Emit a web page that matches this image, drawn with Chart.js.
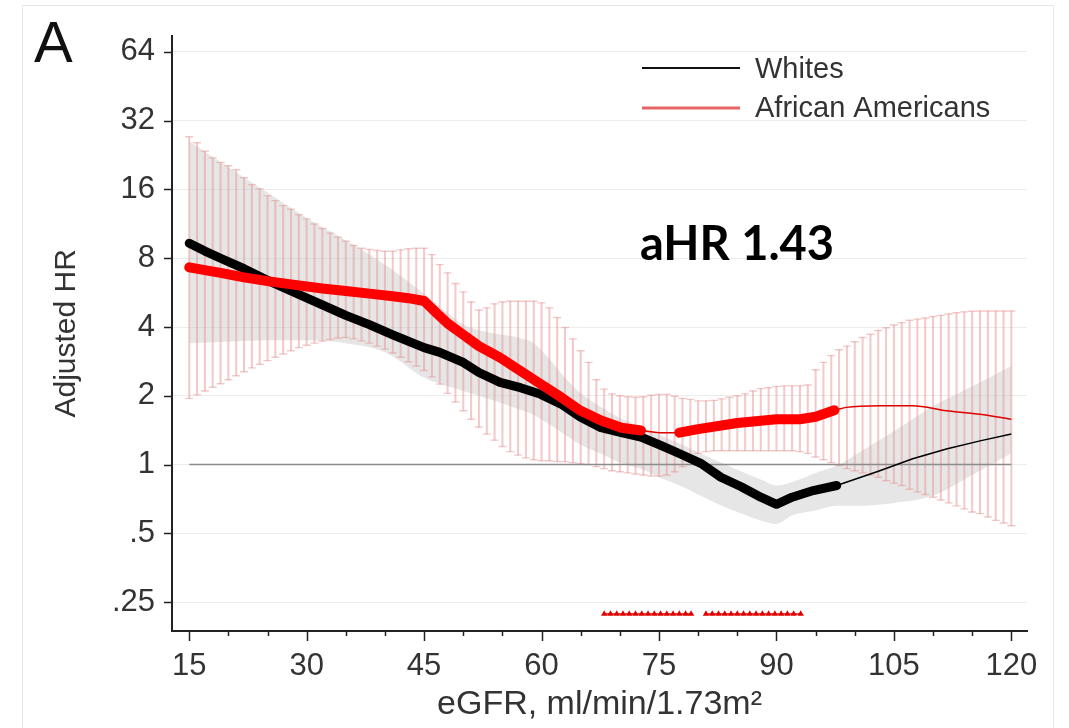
<!DOCTYPE html>
<html>
<head>
<meta charset="utf-8">
<script src="https://cdn.jsdelivr.net/npm/chart.js@4.4.1/dist/chart.umd.min.js"></script>
<style>
  html, body { margin: 0; padding: 0; background: #fff; }
  #wrap { width: 1069px; height: 728px; position: relative; }
</style>
</head>
<body>
<div id="wrap"><canvas id="hrChart" width="1069" height="728"></canvas></div>
<script>
// tick labels
const xTicks = [15, 30, 45, 60, 75, 90, 105, 120];
const yTicks = [0.25, 0.5, 1, 2, 4, 8, 16, 32, 64];
const yTickLabels = [".25", ".5", "1", "2", "4", "8", "16", "32", "64"];

// African Americans 95% CI (error bars), one per eGFR unit
const ciX = [15, 16, 17, 18, 19, 20, 21, 22, 23, 24, 25, 26, 27, 28, 29, 30, 31, 32, 33, 34,
  35, 36, 37, 38, 39, 40, 41, 42, 43, 44, 45, 46, 47, 48, 49, 50, 51, 52, 53, 54,
  55, 56, 57, 58, 59, 60, 61, 62, 63, 64, 65, 66, 67, 68, 69, 70, 71, 72, 73, 74,
  75, 76, 77, 78, 79, 80, 81, 82, 83, 84, 85, 86, 87, 88, 89, 90, 91, 92, 93, 94,
  95, 96, 97, 98, 99, 100, 101, 102, 103, 104, 105, 106, 107, 108, 109, 110, 111, 112, 113, 114,
  115, 116, 117, 118, 119, 120];
const aaUpper = [27.2, 25.6, 23.5, 22.0, 21.0, 20.3, 19.5, 18.0, 16.8, 16.1, 15.0, 14.3, 13.6, 13.1, 12.4, 11.9, 11.3, 10.8, 10.3, 9.9,
  9.5, 9.1, 8.85, 8.75, 8.65, 8.58, 8.58, 8.7, 8.8, 8.85, 8.85, 8.3, 7.5, 6.9, 6.2, 5.7, 5.15, 4.75, 4.85, 5.05,
  5.15, 5.19, 5.19, 5.19, 5.19, 5.1, 4.85, 4.4, 3.98, 3.55, 3.15, 2.8, 2.35, 2.14, 2.04, 2.0, 1.98, 1.97, 1.98, 2.01,
  2.03, 2.03, 1.99, 1.95, 1.93, 1.9, 1.9, 1.91, 1.94, 1.97, 2.0, 2.04, 2.1, 2.15, 2.17, 2.2, 2.21, 2.21, 2.21, 2.23,
  2.6, 2.8, 3.0, 3.18, 3.3, 3.45, 3.6, 3.72, 3.86, 3.97, 4.08, 4.18, 4.28, 4.33, 4.38, 4.45, 4.5, 4.56, 4.62, 4.66,
  4.69, 4.7, 4.7, 4.7, 4.7, 4.7];
const aaLower = [1.95, 2.02, 2.1, 2.18, 2.26, 2.35, 2.45, 2.55, 2.65, 2.75, 2.85, 2.95, 3.05, 3.15, 3.25, 3.33, 3.4, 3.47, 3.53, 3.58,
  3.6, 3.55, 3.48, 3.4, 3.3, 3.2, 3.08, 2.95, 2.82, 2.7, 2.58, 2.42, 2.25, 2.05, 1.88, 1.72, 1.58, 1.46, 1.36, 1.28,
  1.2, 1.14, 1.1, 1.07, 1.05, 1.04, 1.04, 1.03, 1.03, 1.02, 1.01, 1.0, 0.98, 0.96, 0.94, 0.93, 0.92, 0.91, 0.9, 0.89,
  0.89, 0.9, 0.93, 0.98, 1.06, 1.12, 1.14, 1.15, 1.15, 1.15, 1.15, 1.15, 1.15, 1.15, 1.15, 1.15, 1.15, 1.15, 1.14, 1.12,
  1.08, 1.05, 1.02, 0.99, 0.96, 0.94, 0.92, 0.9, 0.88, 0.85, 0.83, 0.81, 0.78, 0.76, 0.74, 0.72, 0.7, 0.68, 0.66, 0.64,
  0.62, 0.61, 0.59, 0.57, 0.555, 0.54];

// Whites 95% CI (grey band)
const bandX = [15, 20, 25, 30, 35, 40, 45, 48, 50, 53, 55, 57, 59, 61, 63, 65, 68, 70, 73, 75, 78, 80, 83, 85, 88, 90, 92, 95, 97.7, 100, 105, 110, 115, 120];
const whUpper = [26, 20, 15.5, 12, 9.6, 7.5, 5.6, 4.6, 4.1, 3.8, 3.7, 3.6, 3.4, 2.9, 2.4, 2.05, 1.75, 1.6, 1.45, 1.35, 1.22, 1.13, 1.02, 0.95, 0.86, 0.81, 0.84, 0.92, 0.99, 1.1, 1.4, 1.8, 2.2, 2.7];
const whLower = [3.4, 3.45, 3.5, 3.5, 3.4, 3.1, 2.4, 2.2, 2.1, 1.95, 1.85, 1.75, 1.65, 1.5, 1.35, 1.22, 1.1, 1.02, 0.95, 0.88, 0.8, 0.74, 0.66, 0.62, 0.57, 0.55, 0.6, 0.63, 0.66, 0.66, 0.68, 0.73, 0.9, 1.12];

// Whites adjusted HR
const whThickX = [15, 17, 19, 22, 25, 28, 32, 35, 38, 41, 45, 47, 50, 52, 54.7, 57.3, 59.9, 62.5, 65, 67.6, 70.2, 72.7, 75.3, 77.8, 80.4, 82.9, 85.5, 88, 90, 92, 94.7, 97.7];
const whThickY = [9.3, 8.6, 8.0, 7.2, 6.4, 5.75, 5.0, 4.5, 4.1, 3.7, 3.25, 3.1, 2.8, 2.53, 2.29, 2.17, 2.03, 1.84, 1.61, 1.45, 1.38, 1.32, 1.21, 1.11, 1.01, 0.88, 0.8, 0.72, 0.67, 0.72, 0.77, 0.81];
const whThinX = [97.7, 103.2, 107.4, 111.7, 116, 120];
const whThinY = [0.81, 0.94, 1.06, 1.17, 1.27, 1.36];

// African Americans adjusted HR
const aaThickX1 = [15, 17, 19, 22, 25, 28, 32, 35, 38, 41, 43, 45, 46.6, 48, 50, 52, 54.7, 57.3, 59.9, 62.5, 65, 67.6, 70.2, 72.7];
const aaThickY1 = [7.3, 7.1, 6.9, 6.6, 6.35, 6.15, 5.9, 5.75, 5.6, 5.45, 5.35, 5.2, 4.6, 4.15, 3.7, 3.3, 2.94, 2.57, 2.25, 1.97, 1.72, 1.56, 1.45, 1.41];
const aaGapX = [72.7, 75, 77.6];
const aaGapY = [1.41, 1.38, 1.38];
const aaThickX2 = [77.6, 80, 85, 90, 93, 95, 97.4];
const aaThickY2 = [1.38, 1.43, 1.52, 1.58, 1.58, 1.62, 1.73];
const aaThinX = [97.4, 98.9, 103.2, 107.4, 111.7, 116, 120];
const aaThinY = [1.73, 1.78, 1.81, 1.81, 1.72, 1.66, 1.58];

// significance rug near the bottom
const rugX1 = [68, 68.8, 69.6, 70.4, 71.2, 72, 72.8, 73.6, 74.4, 75.2, 76, 76.8, 77.6, 78.4, 79.1];
const rugX2 = [81, 81.8, 82.6, 83.4, 84.2, 85, 85.8, 86.6, 87.4, 88.2, 89, 89.8, 90.6, 91.4, 92.2, 93.1];
const rugLevel = 0.222;

const pts = (xs, ys) => xs.map((x, i) => ({ x: x, y: ys[i] }));

const pink = "rgba(232,150,150,0.5)";

const decorations = {
    id: "decorations",
    beforeDraw(chart) {
        const ctx = chart.ctx;
        ctx.save();
        ctx.fillStyle = "#fff";
        ctx.fillRect(0, 0, chart.width, chart.height);
        ctx.strokeStyle = "#e8e8e8";
        ctx.lineWidth = 1;
        ctx.strokeRect(22.5, 5.5, 1031, 740);
        ctx.restore();
    },
    afterDraw(chart) {
        const ctx = chart.ctx;
        const xs = chart.scales.x;
        const ys = chart.scales.y;
        const area = chart.chartArea;
        ctx.save();
        // tick marks
        ctx.strokeStyle = "#222";
        ctx.lineWidth = 1.5;
        for (let v = 15; v <= 120; v += 5) {
            const px = Math.round(xs.getPixelForValue(v)) + 0.5;
            const len = (v - 15) % 15 === 0 ? 10 : 5;
            ctx.beginPath();
            ctx.moveTo(px, area.bottom);
            ctx.lineTo(px, area.bottom + len);
            ctx.stroke();
        }
        yTicks.forEach((v) => {
            const py = Math.round(ys.getPixelForValue(v)) + 0.5;
            ctx.beginPath();
            ctx.moveTo(area.left - 8, py);
            ctx.lineTo(area.left, py);
            ctx.stroke();
        });

        // legend
        ctx.font = "29px 'Liberation Sans', Arial, sans-serif";
        ctx.textBaseline = "middle";
        ctx.fillStyle = "#333";
        ctx.strokeStyle = "#111";
        ctx.lineWidth = 2;
        ctx.beginPath();
        ctx.moveTo(642, 68);
        ctx.lineTo(740, 68);
        ctx.stroke();
        ctx.fillText("Whites", 755, 70);
        ctx.strokeStyle = "#e86464";
        ctx.lineWidth = 3;
        ctx.beginPath();
        ctx.moveTo(642, 108);
        ctx.lineTo(740, 108);
        ctx.stroke();
        ctx.fillText("African Americans", 755, 109);

        // annotation and panel letter
        ctx.textBaseline = "alphabetic";
        ctx.fillStyle = "#000";
        ctx.font = "bold 47px Lato, 'Open Sans', sans-serif";
        ctx.fillText("aHR 1.43", 640, 260);
        ctx.fillStyle = "#111";
        ctx.font = "58px 'Liberation Sans', Arial, sans-serif";
        ctx.fillText("A", 34, 62);
        ctx.restore();
    },
};

const ctx = document.getElementById("hrChart").getContext("2d");

new Chart(ctx, {
    type: "scatter",
    data: {
        datasets: [
            {
                type: "line",
                label: "Whites CI upper",
                data: pts(bandX, whUpper),
                borderWidth: 0,
                pointRadius: 0,
                cubicInterpolationMode: "monotone",
                backgroundColor: "rgba(200,200,200,0.45)",
                fill: "+1",
                order: 10,
            },
            {
                type: "line",
                label: "Whites CI lower",
                data: pts(bandX, whLower),
                borderWidth: 0,
                pointRadius: 0,
                cubicInterpolationMode: "monotone",
                fill: false,
                order: 10,
            },
            {
                type: "bar",
                label: "African Americans CI",
                data: ciX.map((x, i) => ({ x: x, y: [aaLower[i], aaUpper[i]] })),
                backgroundColor: pink,
                borderWidth: 0,
                barThickness: 1.4,
                order: 8,
            },
            {
                label: "CI upper caps",
                data: pts(ciX, aaUpper),
                pointStyle: "line",
                pointRadius: 4,
                borderColor: pink,
                borderWidth: 1.4,
                showLine: false,
                order: 7,
            },
            {
                label: "CI lower caps",
                data: pts(ciX, aaLower),
                pointStyle: "line",
                pointRadius: 4,
                borderColor: pink,
                borderWidth: 1.4,
                showLine: false,
                order: 7,
            },
            {
                type: "line",
                label: "Reference",
                data: [{ x: 15, y: 1 }, { x: 120, y: 1 }],
                borderColor: "#8c8c8c",
                borderWidth: 1.5,
                pointRadius: 0,
                order: 6,
            },
            {
                type: "line",
                label: "rug 1",
                data: rugX1.map((x) => ({ x: x, y: rugLevel })),
                borderColor: "#e00000",
                backgroundColor: "#e00000",
                borderWidth: 1.5,
                pointStyle: "triangle",
                pointRadius: 2.2,
                order: 5,
            },
            {
                type: "line",
                label: "rug 2",
                data: rugX2.map((x) => ({ x: x, y: rugLevel })),
                borderColor: "#e00000",
                backgroundColor: "#e00000",
                borderWidth: 1.5,
                pointStyle: "triangle",
                pointRadius: 2.2,
                order: 5,
            },
            {
                type: "line",
                label: "Whites (extrapolated)",
                data: pts(whThinX, whThinY),
                borderColor: "#000",
                borderWidth: 1.5,
                pointRadius: 0,
                order: 4,
            },
            {
                type: "line",
                label: "African Americans (gap)",
                data: pts(aaGapX, aaGapY),
                borderColor: "#e00000",
                borderWidth: 1.5,
                pointRadius: 0,
                order: 4,
            },
            {
                type: "line",
                label: "African Americans (extrapolated)",
                data: pts(aaThinX, aaThinY),
                borderColor: "#e00000",
                borderWidth: 1.5,
                pointRadius: 0,
                cubicInterpolationMode: "monotone",
                order: 4,
            },
            {
                type: "line",
                label: "Whites",
                data: pts(whThickX, whThickY),
                borderColor: "#000",
                borderWidth: 9,
                borderCapStyle: "round",
                borderJoinStyle: "round",
                pointRadius: 0,
                order: 3,
            },
            {
                type: "line",
                label: "African Americans",
                data: pts(aaThickX1, aaThickY1),
                borderColor: "#ff0000",
                borderWidth: 10,
                borderCapStyle: "round",
                borderJoinStyle: "round",
                pointRadius: 0,
                order: 2,
            },
            {
                type: "line",
                label: "African Americans 2",
                data: pts(aaThickX2, aaThickY2),
                borderColor: "#ff0000",
                borderWidth: 10,
                borderCapStyle: "round",
                borderJoinStyle: "round",
                pointRadius: 0,
                order: 2,
            },
        ],
    },
    options: {
        responsive: false,
        animation: false,
        events: [],
        devicePixelRatio: 1,
        layout: {
            padding: { left: 0, right: 42, top: 33, bottom: 0 },
        },
        plugins: {
            legend: { display: false },
            tooltip: { enabled: false },
        },
        scales: {
            x: {
                type: "linear",
                min: 12.8,
                max: 122,
                offset: false,
                afterBuildTicks: (scale) => {
                    scale.ticks = xTicks.map((v) => ({ value: v }));
                },
                afterFit: (scale) => {
                    scale.height = 97;
                },
                grid: { display: false, offset: false, drawTicks: false },
                border: { display: true, color: "#222", width: 2 },
                ticks: {
                    padding: 17,
                    color: "#333",
                    font: { family: "'Liberation Sans', Arial, sans-serif", size: 31 },
                    maxRotation: 0,
                    autoSkip: false,
                },
                title: {
                    display: true,
                    text: "eGFR, ml/min/1.73m\u00b2",
                    color: "#333",
                    font: { family: "'Liberation Sans', Arial, sans-serif", size: 34 },
                    padding: { top: 0, bottom: 3 },
                },
            },
            y: {
                type: "logarithmic",
                min: 0.187,
                max: 75.4,
                afterBuildTicks: (scale) => {
                    scale.ticks = yTicks.map((v) => ({ value: v }));
                },
                afterFit: (scale) => {
                    scale.width = 172;
                },
                grid: { color: "#ececec", lineWidth: 1, drawTicks: false },
                border: { display: true, color: "#222", width: 2 },
                ticks: {
                    padding: 17,
                    color: "#333",
                    autoSkip: false,
                    font: { family: "'Liberation Sans', Arial, sans-serif", size: 31 },
                    callback: (value) => {
                        const i = yTicks.indexOf(value);
                        return i >= 0 ? yTickLabels[i] : "";
                    },
                },
                title: {
                    display: true,
                    text: "Adjusted HR",
                    color: "#333",
                    font: { family: "'Liberation Sans', Arial, sans-serif", size: 30 },
                    padding: { top: 49, bottom: 0 },
                },
            },
        },
    },
    plugins: [decorations],
});
</script>
</body>
</html>
